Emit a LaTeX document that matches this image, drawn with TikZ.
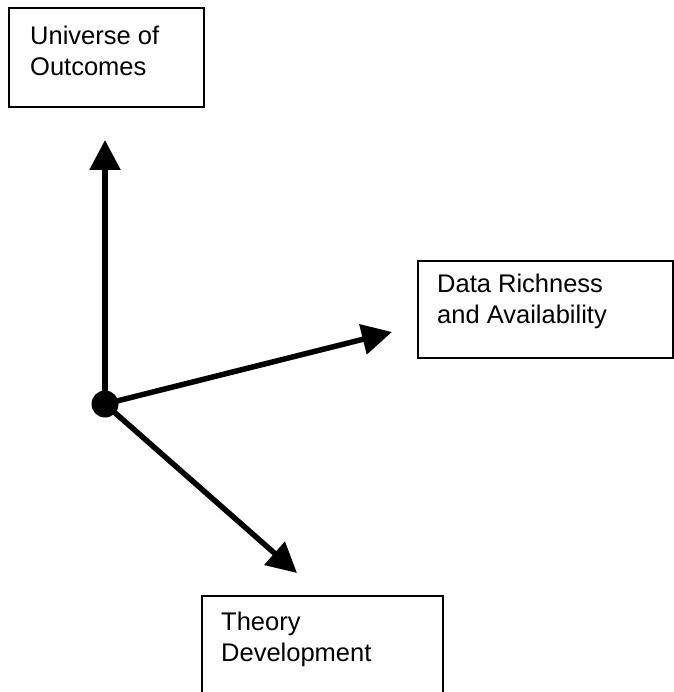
\documentclass[tikz,border=0pt]{standalone}
\usepackage{fontspec}
\setmainfont{Liberation Sans}
\usetikzlibrary{arrows.meta}
\begin{document}
\begin{tikzpicture}[x=1pt,y=-1pt,
  boxstyle/.style={draw=black, line width=2pt, rectangle, inner sep=0pt, anchor=north west},
  labelstyle/.style={anchor=base west, inner sep=0pt, align=left, font=\fontsize{25.5}{31}\selectfont},
  axisarrow/.style={line width=5.5pt, -{Triangle[length=30pt,width=30pt]}}]
\useasboundingbox (0,0) rectangle (673,692);
% boxes
\node[boxstyle, minimum width=195pt, minimum height=99pt] (outbox) at (8,7) {};
\node[boxstyle, minimum width=255pt, minimum height=97pt] (databox) at (417,260) {};
\node[boxstyle, minimum width=241pt, minimum height=120pt] (theorybox) at (201,595) {};
% labels (anchored at the baseline of the last line)
\node[labelstyle] (outtext) at (30,76) {Universe of\\Outcomes};
\node[labelstyle] (datatext) at (437,323) {Data Richness\\and Availability};
\node[labelstyle] (theorytext) at (221,661) {Theory\\Development};
% origin and arrow tips
\node[circle, fill=black, minimum size=27pt, inner sep=0pt] (origin) at (105,404) {};
\coordinate (uptip) at (105,140);
\coordinate (righttip) at (392,332);
\coordinate (downtip) at (297,573);
\draw[axisarrow] (origin.center) -- (uptip);
\draw[axisarrow] (origin.center) -- (righttip);
\draw[axisarrow] (origin.center) -- (downtip);
\end{tikzpicture}
\end{document}
